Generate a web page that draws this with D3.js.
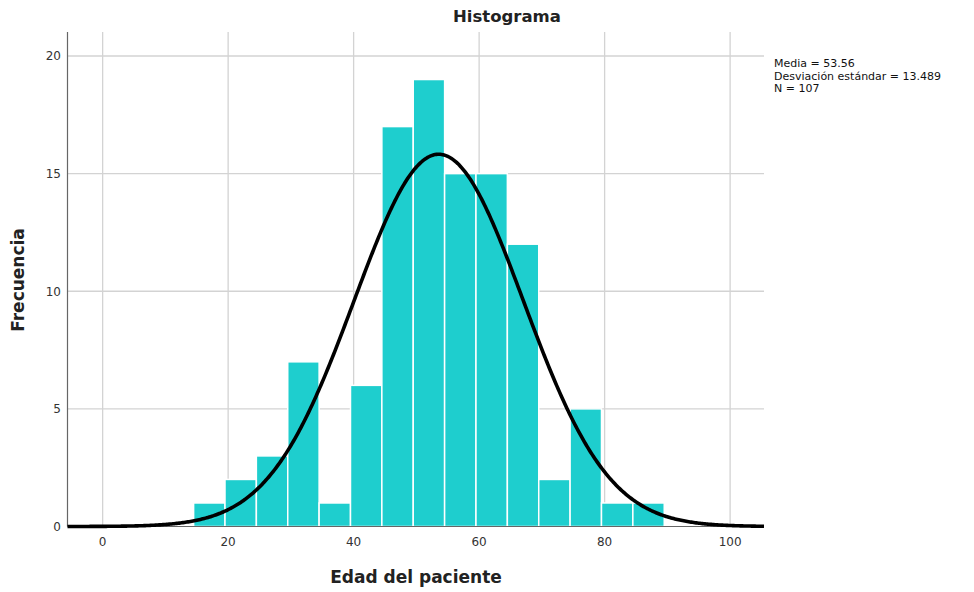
<!DOCTYPE html>
<html>
<head>
<meta charset="utf-8">
<script src="https://cdn.jsdelivr.net/npm/d3@7"></script>
<style>
  body { margin: 0; background: #fff; }
  text { font-family: "DejaVu Sans", sans-serif; }
</style>
</head>
<body>
<svg id="chart" width="974" height="592"></svg>
<script>
// bins of 5 years (edges at .5 because ages are integers)
const binStarts = [14.5, 19.5, 24.5, 29.5, 34.5, 39.5, 44.5, 49.5, 54.5, 59.5, 64.5, 69.5, 74.5, 79.5, 84.5]
const counts = [1, 2, 3, 7, 1, 6, 17, 19, 15, 15, 12, 2, 5, 1, 1]
const binWidth = 5
const xTicks = [0, 20, 40, 60, 80, 100]
const yTicks = [0, 5, 10, 15, 20]
const media = 53.56, sd = 13.489, n = 107
const legendLines = ["Media = 53.56", "Desviación estándar = 13.489", "N = 107"]

let svg = d3.select('#chart')
let plotLeft = 67.5, plotRight = 764, plotTop = 32, plotBottom = 526.5

let x = d3.scaleLinear().domain([-5.6, 105.4]).range([plotLeft, plotRight])
let y = d3.scaleLinear().domain([0, 21.02]).range([plotBottom, plotTop])

// grid
svg.append('g').selectAll('line')
    .data(xTicks)
    .enter()
    .append('line')
    .attr('x1', d => x(d)).attr('x2', d => x(d))
    .attr('y1', plotTop).attr('y2', plotBottom)
    .attr('stroke', '#d3d3d3').attr('stroke-width', 1.3)

svg.append('g').selectAll('line')
    .data(yTicks.filter(d => d > 0))
    .enter()
    .append('line')
    .attr('x1', plotLeft).attr('x2', plotRight)
    .attr('y1', d => y(d)).attr('y2', d => y(d))
    .attr('stroke', '#d3d3d3').attr('stroke-width', 1.3)

// bars
svg.append('g').selectAll('rect')
    .data(counts)
    .enter()
    .append('rect')
    .attr('x', (d, i) => x(binStarts[i]))
    .attr('width', (d, i) => x(binStarts[i] + binWidth) - x(binStarts[i]))
    .attr('y', d => y(d))
    .attr('height', d => y(0) - y(d))
    .attr('fill', '#1ecece')
    .attr('stroke', '#fff')
    .attr('stroke-width', 1.5)

// axes lines
svg.append('line')
    .attr('x1', plotLeft).attr('x2', plotLeft).attr('y1', plotTop).attr('y2', plotBottom)
    .attr('stroke', '#666').attr('stroke-width', 1.2)
svg.append('line')
    .attr('x1', plotLeft).attr('x2', plotRight).attr('y1', plotBottom).attr('y2', plotBottom)
    .attr('stroke', '#666').attr('stroke-width', 1.2)

// normal curve from the stats shown in the legend
let xs = d3.range(-5.6, 105.41, 0.2)
let curve = xs.map(v => [v, n * binWidth * Math.exp(-0.5 * ((v - media) / sd) ** 2) / (sd * Math.sqrt(2 * Math.PI))])
svg.append('path')
    .datum(curve)
    .attr('fill', 'none')
    .attr('stroke', '#000')
    .attr('stroke-width', 3.6)
    .attr('d', d3.line().x(d => x(d[0])).y(d => y(d[1])))

// tick labels
svg.append('g').selectAll('text')
    .data(xTicks)
    .enter()
    .append('text')
    .text(d => d)
    .attr('x', d => x(d))
    .attr('y', 546)
    .attr('text-anchor', 'middle')
    .attr('font-size', 12)
    .attr('fill', '#333')

svg.append('g').selectAll('text')
    .data(yTicks)
    .enter()
    .append('text')
    .text(d => d)
    .attr('x', 61)
    .attr('y', d => y(d) + 4.5)
    .attr('text-anchor', 'end')
    .attr('font-size', 12)
    .attr('fill', '#333')

// titles
svg.append('text')
    .text('Histograma')
    .attr('x', 507).attr('y', 22)
    .attr('text-anchor', 'middle')
    .attr('font-size', 16.5).attr('font-weight', 'bold')
    .attr('fill', '#222')

svg.append('text')
    .text('Edad del paciente')
    .attr('x', 416).attr('y', 583)
    .attr('text-anchor', 'middle')
    .attr('font-size', 17).attr('font-weight', 'bold')
    .attr('fill', '#222')

svg.append('text')
    .text('Frecuencia')
    .attr('transform', 'translate(24,280) rotate(-90)')
    .attr('text-anchor', 'middle')
    .attr('font-size', 17).attr('font-weight', 'bold')
    .attr('fill', '#222')

// legend text
svg.append('g').selectAll('text')
    .data(legendLines)
    .enter()
    .append('text')
    .text(d => d)
    .attr('x', 774)
    .attr('y', (d, i) => 67 + i * 12.5)
    .attr('font-size', 11)
    .attr('fill', '#111')
</script>
</body>
</html>
